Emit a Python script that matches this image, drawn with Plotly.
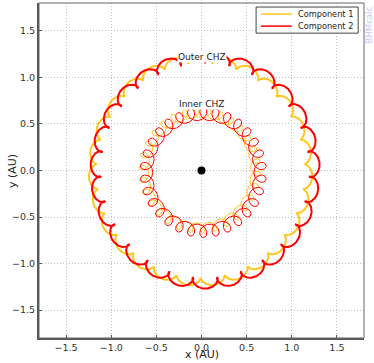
import numpy as np
import plotly.graph_objects as go

# circumbinary habitable zone edges for the two stars
components = ["Component 1", "Component 2"]
colors = ["#ffc71f", "#ff0000"]

# outer CHZ (small loops / cusps point inward)
outer_cx = [-0.01, 0.04]
outer_r = [1.197, 1.215]
outer_amp = [0.0428, 0.055]
outer_loops = [27, 27]
outer_loop_at = [96.7, 90.0]  # angle (deg) of one loop / cusp

# inner CHZ (coil-like loops)
inner_cx = [-0.02, 0.02]
inner_cy = [0.0, -0.02]
inner_r = [0.62, 0.63]
inner_amp = [0.055, 0.07]
inner_loops = [30, 30]
inner_loop_at = [93.0, 90.0]

labels = ["Outer CHZ", "Inner CHZ"]
label_y = [1.22, 0.71]


def chz_curve(cx, cy, r, a, n, at_deg, sense):
    th = np.linspace(0, 2*np.pi, 5000)
    th0 = np.radians(at_deg)
    if sense > 0:
        psi = n*(th - th0) + np.pi
    else:
        psi = -n*(th - th0)
    z = np.exp(1j*th)*(r + a*np.exp(1j*psi))
    return cx + z.real, cy + z.imag


fig = go.Figure()

for i in range(2):
    x, y = chz_curve(outer_cx[i], 0.0, outer_r[i], outer_amp[i],
                     outer_loops[i], outer_loop_at[i], 1)
    fig.add_trace(go.Scatter(x=x, y=y, mode="lines", name=components[i],
                             line=dict(color=colors[i], width=2)))
for i in range(2):
    x, y = chz_curve(inner_cx[i], inner_cy[i], inner_r[i], inner_amp[i],
                     inner_loops[i], inner_loop_at[i], -1)
    fig.add_trace(go.Scatter(x=x, y=y, mode="lines",
                             line=dict(color=colors[i], width=1)))

fig.add_trace(go.Scatter(x=[0], y=[0], mode="markers",
                         marker=dict(color="black", size=8)))

for t, yy in zip(labels, label_y):
    fig.add_annotation(x=0, y=yy, text=t, showarrow=False, bgcolor="white",
                       font=dict(size=9, color="#222"), borderpad=0)

# axis titles
fig.add_annotation(xref="paper", yref="paper", x=0.5, y=-0.0716,
                   text="x (AU)", showarrow=False, yanchor="bottom",
                   borderpad=0, font=dict(size=11, color="#222"))
fig.add_annotation(xref="paper", yref="paper", x=-0.083, y=0.4985,
                   text="y (AU)", textangle=-90, showarrow=False,
                   xanchor="center", font=dict(size=11, color="#222"))

# watermark
fig.add_annotation(xref="paper", yref="paper", x=1.015, y=0.997,
                   xanchor="center", yanchor="top", text="BHMcalc",
                   textangle=-90, showarrow=False,
                   font=dict(size=8.5, color="#c9c9f2"))

# legend drawn by hand (matplotlib-style compact box)
fig.add_shape(type="rect", xref="paper", yref="paper", x0=0.668, x1=0.982,
              y0=0.910, y1=0.988, line=dict(color="#444", width=1),
              fillcolor="white", layer="above")
for i, yy in enumerate([0.967, 0.931]):
    fig.add_shape(type="line", xref="paper", yref="paper", x0=0.683, x1=0.778,
                  y0=yy, y1=yy, line=dict(color=colors[i], width=1.5),
                  layer="above")
    fig.add_annotation(xref="paper", yref="paper", x=0.791, y=yy,
                       xanchor="left", yanchor="middle", text=components[i],
                       showarrow=False, font=dict(size=8.2, color="#222"))

# thin top/right frame
fig.add_shape(type="rect", xref="paper", yref="paper", x0=0, y0=0, x1=1, y1=1,
              line=dict(color="#666", width=1))

ax = dict(range=[-1.8, 1.8], dtick=0.5, tickformat=".1f", showgrid=True,
          gridcolor="#c0c0c0", griddash="1px,2px", gridwidth=1,
          zeroline=False, automargin=False,
          showline=True, linecolor="#555", linewidth=2, ticks="inside",
          ticklen=3, tickcolor="#555", tickfont=dict(size=9.5, color="#333"))

fig.update_layout(
    width=374, height=363,
    margin=dict(l=39, r=10, t=3, b=25),
    paper_bgcolor="white", plot_bgcolor="white",
    font=dict(family="DejaVu Sans"),
    showlegend=False,
    xaxis=ax,
    yaxis=dict(ax, ticklabelstandoff=0),
)

# the page has a default body margin; drop it so the figure sits at 0,0
fig.write_html("out.html", config={"displayModeBar": False},
               post_script="document.body.style.margin='0';")
